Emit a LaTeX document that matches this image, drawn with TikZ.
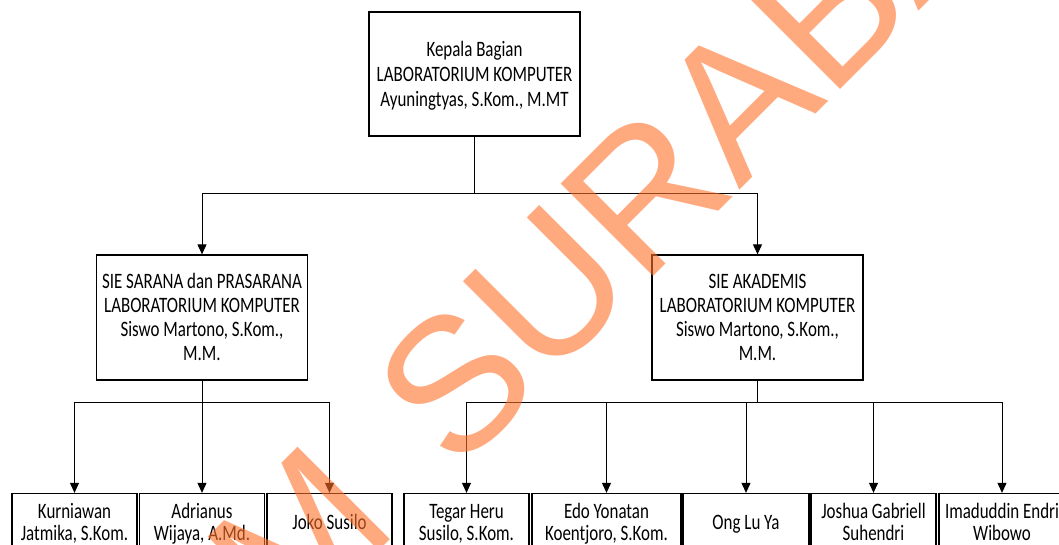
\documentclass[tikz,border=0pt]{standalone}
\usepackage{fontspec}
\usetikzlibrary{arrows.meta,calc}
\newfontfamily\labfont[FakeStretch=0.77]{Carlito}
\newfontfamily\wmfont{Liberation Sans}
\definecolor{wmcol}{RGB}{255,113,43}
\tikzset{
  box/.style={draw=black, line width=1.3pt, fill=none, inner sep=0pt, align=center,
    font=\labfont\fontsize{22}{25}\selectfont},
  topbox/.style={box, minimum width=211pt, minimum height=124pt, text height=68pt, text depth=4pt},
  siebox/.style={box, minimum width=211pt, minimum height=125pt, text height=89pt, text depth=4pt,
    font=\labfont\fontsize{22}{24}\selectfont},
  leaftwo/.style={box, minimum width=125pt, minimum height=58pt, text height=39pt, text depth=4pt,
    font=\labfont\fontsize{22}{22}\selectfont},
  leafone/.style={box, minimum width=125pt, minimum height=58pt, text height=17.6pt, text depth=4pt},
  conn/.style={draw=black, line width=1pt},
  arr/.style={-{Triangle[length=10pt,width=9pt]}},
  wm/.style={inner sep=0pt, text=wmcol, text opacity=0.6,
    font=\wmfont\fontsize{190}{190}\selectfont}
}
\begin{document}
\begin{tikzpicture}[x=1pt,y=-1pt]
\useasboundingbox (0,0) rectangle (1059,544);
\clip (0,0) rectangle (1059,544);
\fill[white] (0,0) rectangle (1059,544);
% boxes
\node[topbox] (top) at (474.5,74) {Kepala Bagian\\LABORATORIUM KOMPUTER\\Ayuningtyas, S.Kom., M.MT};
\node[siebox] (sie1) at (202,317.5) {SIE SARANA dan PRASARANA\\LABORATORIUM KOMPUTER\\Siswo Martono, S.Kom.,\\M.M.};
\node[siebox] (sie2) at (757.5,317.5) {SIE AKADEMIS\\LABORATORIUM KOMPUTER\\Siswo Martono, S.Kom.,\\M.M.};
\node[leaftwo] (k1) at (74.5,522.5) {Kurniawan\\Jatmika, S.Kom.};
\node[leaftwo] (k2) at (202,522.5) {Adrianus\\Wijaya, A.Md.};
\node[leafone] (k3) at (329.5,522.5) {Joko Susilo};
\node[leaftwo] (a1) at (466.5,522.5) {Tegar Heru\\Susilo, S.Kom.};
\node[leaftwo, minimum width=149pt] (a2) at (606.5,522.5) {Edo Yonatan\\Koentjoro, S.Kom.};
\node[leafone, minimum width=126pt] (a3) at (746,522.5) {Ong Lu Ya};
\node[leaftwo] (a4) at (873.5,522.5) {Joshua Gabriell\\Suhendri};
\node[leaftwo, minimum width=126pt] (a5) at (1002,522.5) {Imaduddin Endri\\Wibowo};
% connectors
\coordinate (j0) at ($(top.south)+(0,57)$);
\draw[conn] (top.south) -- (j0);
\draw[conn,arr] (j0) -| (sie1.north);
\draw[conn,arr] (j0) -| (sie2.north);
\coordinate (j1) at ($(sie1.south)+(0,22)$);
\draw[conn] (sie1.south) -- (j1);
\foreach \n in {k1,k2,k3} \draw[conn,arr] (j1) -| (\n.north);
\coordinate (j2) at ($(sie2.south)+(0,22)$);
\draw[conn] (sie2.south) -- (j2);
\foreach \n in {a1,a2,a3,a4,a5} \draw[conn,arr] (j2) -| (\n.north);
% watermark
\node[wm, rotate=45, anchor=base west] (wmark) at (289,641) {M\kern25pt\ SURABA};
\end{tikzpicture}
\end{document}
